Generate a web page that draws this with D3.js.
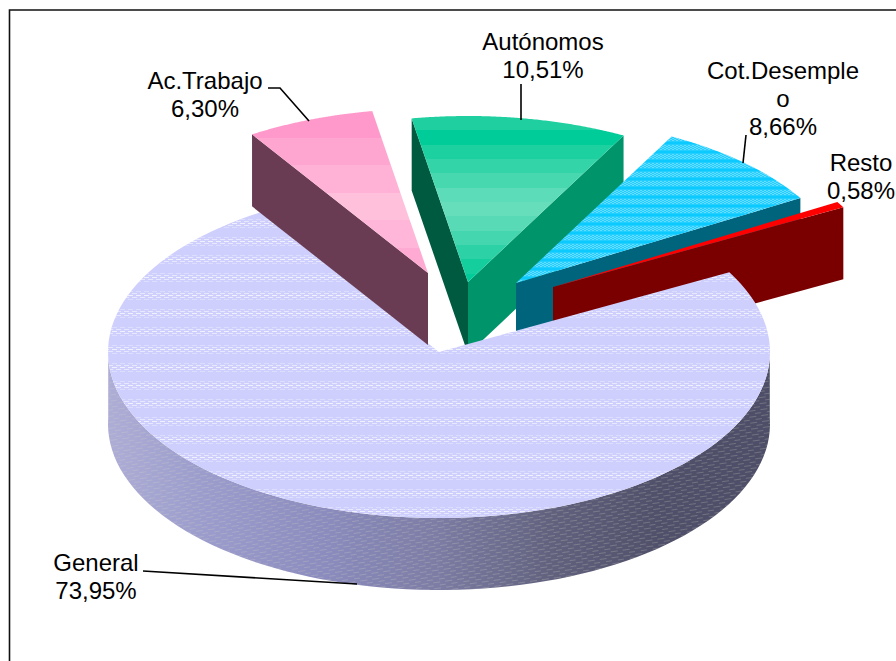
<!DOCTYPE html>
<html><head><meta charset="utf-8">
<script src="https://cdn.jsdelivr.net/npm/d3@7"></script>
<style>html,body{margin:0;padding:0;background:#fff;overflow:hidden}svg{display:block}
text{font-family:"Liberation Sans",Arial,sans-serif;font-size:24px;fill:#000;text-anchor:middle}</style>
</head><body><svg id="c" width="896" height="661"></svg>
<script>
const categories = ["General","Ac.Trabajo","Autónomos","Cot.Desempleo","Resto"];
const shares = [73.95,6.30,10.51,8.66,0.58];
const labelText = [["General","73,95%"],["Ac.Trabajo","6,30%"],["Autónomos","10,51%"],["Cot.Desemple","o","8,66%"],["Resto","0,58%"]];
const sideColors = ["#8a8abc","#693c54","#00946a","#00647c","#7a0000"];
const startSideColors = ["#8a8abc","#693c54","#005a40","#00647c","#7a0000"];
const greenBands = ["#1fcf9f","#00cc99","#1cd0a0","#33d4a8","#48d8b0","#5cdcb8","#66ddbb","#58dab6","#44d6ae","#2cd2a6","#14ce9e","#00cc99"];
const pinkBands = ["#ff99cc","#ffa6d0","#ffb2d6","#ffc0dc","#ffb6d8","#ffaad2"];
const sideStops = ["#adadd6","#9a9acb","#8b8bbd","#7c7ca4","#62627f","#50506a","#4e4e68"];

const svg = d3.select("#c"), cx = 439, cy = 352, rx = 331, ry = 166, depth = 72, rad = Math.PI/180;
const defs = svg.append("defs");
const arcs = d3.pie().sort(null).startAngle(61.3*rad).endAngle(421.3*rad)(shares);
const offsets = [[0,0],[-11,-79],[29,-70],[77,-69],[114,-65]];
const rScale = [1,.99,1,1,1];
const proj = (a,k,o,dz=0) => [cx+o[0]+rx*k*Math.sin(a), cy+o[1]-ry*k*Math.cos(a)+dz];
const line = d3.line();

function bandGrad(id,colors,y0,y1){
  const g = defs.append("linearGradient").attr("id",id).attr("gradientUnits","userSpaceOnUse")
    .attr("x1",0).attr("x2",0).attr("y1",y0).attr("y2",y1);
  colors.forEach((c,i)=>{
    g.append("stop").attr("offset",i/colors.length).attr("stop-color",c);
    g.append("stop").attr("offset",(i+1)/colors.length).attr("stop-color",c);
  });
}
bandGrad("gGreen",greenBands,116,288);
bandGrad("gPink",pinkBands,110,275);

const sg = defs.append("linearGradient").attr("id","gSide").attr("gradientUnits","userSpaceOnUse")
  .attr("x1",108).attr("x2",770).attr("y1",0).attr("y2",0);
sideStops.forEach((c,i)=>sg.append("stop").attr("offset",i/(sideStops.length-1)).attr("stop-color",c));

// lilac striped texture of the General face
const pg = defs.append("pattern").attr("id","pGen").attr("patternUnits","userSpaceOnUse").attr("width",8).attr("height",18);
pg.append("rect").attr("width",8).attr("height",18).attr("fill","#cfcffd");
[[0,3,.3],[4,5,.5],[0,7,.7],[4,9,.5],[0,11,.3]].forEach(d=>{
  pg.append("rect").attr("x",d[0]).attr("y",d[1]).attr("width",5).attr("height",1).attr("fill","#fff").attr("opacity",d[2]);
  pg.append("rect").attr("x",d[0]-8).attr("y",d[1]).attr("width",5).attr("height",1).attr("fill","#fff").attr("opacity",d[2]);
});
// blue checker texture
const pb = defs.append("pattern").attr("id","pBlue").attr("patternUnits","userSpaceOnUse").attr("width",4).attr("height",9);
pb.append("rect").attr("width",4).attr("height",9).attr("fill","#22cfff");
[[0,1],[2,2],[0,3],[2,4],[0,5]].forEach(d=>pb.append("rect").attr("x",d[0]).attr("y",d[1]).attr("width",2).attr("height",1).attr("fill","#66dcff"));
pb.append("rect").attr("y",7).attr("width",4).attr("height",2).attr("fill","#0acaff");
// dashed hatch over the General rim
const ph = defs.append("pattern").attr("id","pHatch").attr("patternUnits","userSpaceOnUse").attr("width",12).attr("height",6).attr("patternTransform","rotate(-8)");
ph.append("rect").attr("x",0).attr("y",1).attr("width",7).attr("height",1).attr("fill","#d8d8c8").attr("opacity",.25);
ph.append("rect").attr("x",6).attr("y",4).attr("width",7).attr("height",1).attr("fill","#d8d8c8").attr("opacity",.25);

const topFill = ["url(#pGen)","url(#gPink)","url(#gGreen)","url(#pBlue)","#ff0000"];

function drawSlice(i){
  const d = arcs[i], o = offsets[i], k = rScale[i], g = svg.append("g");
  const apex = [cx+o[0], cy+o[1]];
  const face = (a,fill)=>{
    const p = proj(a,k,o);
    g.append("path").attr("fill",fill).attr("d",line([apex,p,[p[0],p[1]+depth],[apex[0],apex[1]+depth]])+"Z");
  };
  if (Math.cos(d.startAngle-Math.PI/2)<0) face(d.startAngle,startSideColors[i]);
  if (Math.cos(d.endAngle+Math.PI/2)<0) face(d.endAngle,sideColors[i]);
  const steps = d3.range(0,121).map(t=>d.startAngle+(d.endAngle-d.startAngle)*t/120);
  if (i===0){
    const front = steps.filter(a=>Math.cos(a)<0.05);
    const rim = front.map(a=>proj(a,k,o)).concat(front.slice().reverse().map(a=>proj(a,k,o,depth)));
    const rimPath = line(rim)+"Z";
    g.append("path").attr("d",rimPath).attr("fill","url(#gSide)");
    g.append("path").attr("d",rimPath).attr("fill","url(#pHatch)");
  }
  g.append("path").attr("fill",topFill[i]).attr("d",line([apex].concat(steps.map(a=>proj(a,k,o))))+"Z");
}
[2,3,4,0,1].forEach(drawSlice);

// leader lines
const leaders = [
  [[143,571],[357,584]],
  [[268,88],[280,88],[309,121]],
  [[521,84],[521,120]],
  [[746,135],[743,163]]
];
svg.append("g").selectAll("path").data(leaders).join("path")
  .attr("d",d=>line(d)).attr("fill","none").attr("stroke","#000").attr("stroke-width",1.6);

// labels
const labelPos = [[96,571],[205,89],[543,50],[783,79],[861,171]];
const tg = svg.append("g");
labelText.forEach((ls,i)=>{
  const t = tg.append("text").attr("x",labelPos[i][0]).attr("y",labelPos[i][1]);
  ls.forEach((s,j)=>t.append("tspan").attr("x",labelPos[i][0]).attr("y",labelPos[i][1]+j*28).text(s));
});

// frame
svg.append("path").attr("d",line([[9.5,661],[9.5,10],[896,10]])).attr("fill","none").attr("stroke","#111").attr("stroke-width",1.6);
</script></body></html>
